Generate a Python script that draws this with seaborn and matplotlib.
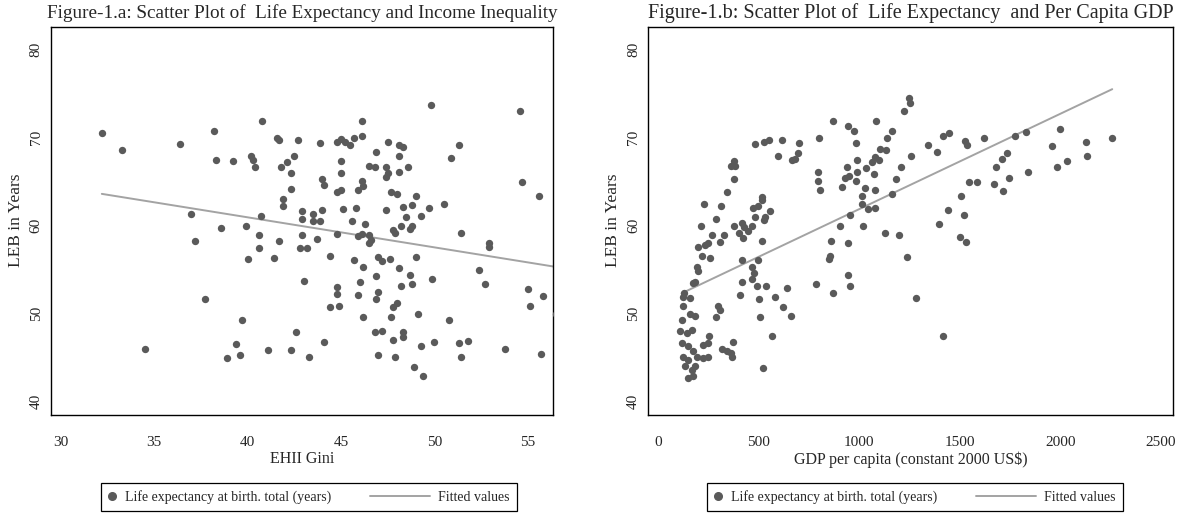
import matplotlib
matplotlib.use("Agg")
import matplotlib.pyplot as plt
import seaborn as sns
from matplotlib.lines import Line2D
from matplotlib.legend_handler import HandlerBase

# Figure-1.a: EHII Gini vs life expectancy at birth
gini = [32.2, 33.3, 36.4, 38.2, 38.3, 39.2, 40.8, 40.2, 40.3, 40.4,
        41.6, 41.7, 42.7, 42.5, 41.8, 42.1, 42.3, 42.3, 41.9, 41.9,
        42.9, 42.9, 37.0, 38.6, 39.9, 40.7, 40.6, 37.2, 41.7, 42.9,
        40.6, 40.0, 41.4, 42.8, 43.2, 43.0, 37.7, 39.7, 42.6, 34.5,
        39.4, 39.6, 38.9, 41.1, 42.3, 43.3,
        43.9, 44.8, 45.0, 45.2, 45.5, 45.7, 46.1, 46.1, 47.5, 46.9,
        48.1, 48.3, 48.1, 49.8, 51.3, 50.9, 54.6, 54.7, 55.6, 45.0,
        45.0, 46.5, 46.8, 47.4, 47.5, 47.4, 48.1, 48.6, 44.0, 44.1,
        46.1, 46.2, 45.9, 44.8, 45.0, 47.7, 48.0, 49.0, 43.5, 43.5,
        43.9, 44.0, 45.1, 45.8, 45.6, 46.3, 47.4, 48.3, 48.8, 48.5,
        49.3, 49.7, 50.5, 47.8, 47.9, 48.2, 48.7, 48.8, 51.4, 43.7,
        44.8, 45.9, 46.1, 46.5, 52.9, 52.9,
        46.6, 46.5, 44.4, 45.7, 46.2, 47.0, 47.2, 47.6, 49.0, 48.1,
        46.9, 46.0, 48.7, 48.8, 48.2, 49.9, 52.4, 52.7, 55.0, 55.8,
        55.1, 56.5, 44.8, 44.8, 45.9, 47.0, 46.9, 44.4, 44.9, 48.0,
        47.8, 47.7, 46.2, 49.1, 50.8, 46.8, 47.2, 47.8, 48.3, 48.3,
        44.1, 50.0, 51.3, 51.8, 49.3, 53.8, 47.0, 47.9, 51.4, 55.7,
        48.9, 49.4]
leb_a = [70.5, 68.6, 69.3, 70.7, 67.5, 67.3, 71.9, 67.9, 67.4, 66.7,
         69.9, 69.7, 69.7, 67.9, 66.7, 67.2, 66.0, 64.1, 63.0, 62.2,
         61.7, 60.7, 61.3, 59.7, 60.0, 61.1, 58.9, 58.2, 58.2, 58.9,
         57.4, 56.2, 56.3, 57.5, 57.4, 53.7, 51.6, 49.3, 47.9, 46.0,
         46.5, 45.3, 44.9, 45.8, 45.8, 45.1,
         69.4, 69.5, 69.8, 69.5, 69.1, 69.9, 71.9, 70.2, 69.5, 68.4,
         69.1, 68.9, 67.9, 73.7, 69.1, 67.7, 73.0, 65.0, 63.4, 67.3,
         66.0, 66.8, 66.7, 66.6, 66.0, 65.5, 66.1, 66.7, 65.3, 64.6,
         65.1, 64.5, 64.0, 63.8, 64.0, 63.8, 63.6, 63.4, 61.3, 60.5,
         60.5, 61.8, 61.9, 62.0, 60.5, 60.2, 61.8, 62.1, 62.3, 61.0,
         61.1, 62.0, 62.4, 59.5, 59.1, 59.9, 59.6, 59.9, 59.1, 58.5,
         59.0, 58.8, 59.0, 58.9, 58.0, 57.6,
         58.3, 58.0, 56.5, 56.1, 55.3, 56.4, 56.0, 56.2, 56.4, 55.2,
         54.3, 53.6, 54.4, 53.4, 53.1, 53.9, 55.0, 53.3, 52.8, 52.0,
         50.8, 49.9, 53.0, 52.2, 52.1, 52.4, 51.6, 50.7, 50.9, 51.2,
         50.7, 49.6, 49.6, 50.0, 49.3, 47.9, 48.0, 47.0, 47.9, 47.3,
         46.8, 46.8, 46.6, 46.9, 46.3, 46.0, 45.3, 45.1, 45.1, 45.4,
         43.9, 42.9]
fit_a_x = [32.2, 56.5]
fit_a_y = [63.6, 55.3]

# Figure-1.b: GDP per capita vs life expectancy at birth
gdp = [1247, 1252, 1223, 871, 1083, 946, 974, 984, 1161, 1140,
       1105, 1132, 702, 696, 665, 681, 615, 552, 528, 481,
       598, 800, 797, 797, 804, 938, 989, 990, 1035, 1064,
       1079, 1098, 1074, 949, 929, 983, 913, 1209, 1181, 1256,
       1029, 1079, 1016, 1012, 1042, 1079, 1165, 954, 905, 1020,
       1128, 1199, 1239, 860, 943, 853, 851, 946, 956, 868,
       785, 1284, 1415,
       229, 315, 343, 378, 363, 383, 378, 215, 290, 326,
       310, 270, 250, 234, 200, 217, 258, 192, 200, 172,
       184, 131, 378, 416, 429, 403, 424, 449, 474, 482,
       499, 515, 518, 532, 557, 528, 466, 518, 419, 498,
       466, 476, 469, 416, 409, 494, 503, 538, 582, 641,
       621, 660, 508, 565, 520, 300, 310, 287, 374, 363,
       366, 317, 341, 255, 250, 250, 222, 225, 192, 175,
       159, 184, 126, 118, 159, 123, 109, 143, 167, 118,
       151, 126, 151, 134, 167, 184, 151, 176,
       1343, 1387, 1415, 1446, 1527, 1534, 1619, 1774, 1831, 2000,
       2129, 2258, 1957, 1983, 2031, 2132, 1678, 1708, 1735, 1745,
       1670, 1715, 1840, 1547, 1587, 1504, 1440, 1519, 1398, 1501,
       1532]
leb_b = [74.5, 73.9, 73.0, 71.9, 71.9, 71.3, 70.8, 69.4, 70.8, 69.9,
         68.7, 68.6, 69.4, 68.3, 67.5, 67.6, 69.7, 69.7, 69.5, 69.3,
         67.9, 69.9, 66.1, 65.1, 64.0, 66.6, 67.5, 66.1, 66.5, 67.2,
         67.8, 67.4, 65.9, 65.6, 65.4, 65.1, 64.4, 66.6, 65.3, 67.9,
         64.3, 64.0, 63.4, 62.4, 61.9, 62.0, 63.6, 61.2, 59.9, 60.0,
         59.1, 58.9, 56.4, 58.2, 58.0, 56.5, 56.2, 54.4, 53.1, 52.3,
         53.3, 51.8, 47.5,
         62.4, 62.2, 63.8, 65.3, 66.8, 66.8, 67.3, 60.0, 60.7, 58.9,
         58.1, 58.9, 58.0, 57.8, 57.6, 56.5, 56.3, 55.3, 54.8, 53.5,
         53.6, 52.3, 59.9, 60.3, 59.8, 59.2, 58.6, 59.4, 62.0, 61.0,
         62.2, 63.3, 62.9, 61.0, 61.7, 60.6, 59.9, 58.2, 56.1, 56.1,
         55.3, 54.6, 53.9, 53.6, 52.1, 53.1, 51.6, 53.1, 51.9, 52.9,
         50.7, 49.7, 49.6, 47.4, 43.8, 50.9, 50.4, 49.6, 46.8, 45.5,
         45.1, 46.0, 45.7, 47.4, 46.6, 45.1, 46.4, 44.9, 45.1, 45.7,
         49.9, 49.7, 50.8, 49.3, 51.8, 51.9, 48.0, 47.8, 48.1, 46.6,
         46.3, 45.1, 44.7, 44.0, 43.6, 44.0, 42.7, 42.9,
         69.1, 68.4, 70.2, 70.5, 69.6, 69.1, 69.9, 70.2, 70.6, 71.0,
         69.5, 70.0, 69.0, 66.7, 67.3, 67.9, 66.7, 67.6, 68.3, 65.4,
         64.7, 63.9, 66.1, 64.9, 65.0, 63.4, 61.8, 61.2, 60.2, 58.7,
         58.1]
fit_b_x = [118, 2258]
fit_b_y = [52.3, 75.5]

y_ticks = [40, 50, 60, 70, 80]
x_ticks_a = [30, 35, 40, 45, 50, 55]
x_ticks_b = [0, 500, 1000, 1500, 2000, 2500]

PT = "#5a5a5a"
LN = "#a3a3a3"

sns.set_style("white")
plt.rcParams["font.family"] = ["Liberation Serif", "DejaVu Serif"]


class LongLineHandler(HandlerBase):
    # legend line that reaches back into the column gap, like Stata's key
    def create_artists(self, legend, orig_handle, xdescent, ydescent,
                       width, height, fontsize, trans):
        y = height / 2 - ydescent
        x1 = width - xdescent
        ln = Line2D([x1 - 4.3 * fontsize, x1], [y, y], color=orig_handle.get_color(),
                    lw=orig_handle.get_linewidth(), transform=trans)
        return [ln]


def draw_panel(ax, x, y, fx, fy, xticks, xlim, title, title_size, xlabel, legend_x):
    sns.scatterplot(x=x, y=y, ax=ax, color=PT, s=28, linewidth=0, legend=False, zorder=3)
    sns.lineplot(x=fx, y=fy, ax=ax, color=LN, lw=1.4, zorder=2)
    ax.set_xlim(*xlim)
    ax.set_ylim(38.5, 82.6)
    ax.set_xticks(xticks)
    ax.set_yticks(y_ticks)
    ax.set_xticklabels([str(t) for t in xticks], fontsize=11)
    ax.set_yticklabels([str(t) for t in y_ticks], fontsize=11, rotation=90, va="center")
    ax.tick_params(axis="x", direction="out", length=6, width=0.8, color="#555555", pad=9)
    ax.tick_params(axis="y", direction="out", length=5, width=0.8, color="#222222", pad=1)
    for sp in ax.spines.values():
        sp.set_visible(True)
        sp.set_color("black")
        sp.set_linewidth(1.0)
    ax.set_xlabel(xlabel, fontsize=11.5, labelpad=2)
    ax.set_ylabel("LEB in Years", fontsize=12.5, labelpad=4)
    ax.set_title(title, fontsize=title_size, pad=6)
    handles = [Line2D([], [], marker="o", ls="none", color=PT, markersize=5.5),
               Line2D([], [], color=LN, lw=1.4)]
    labels = ["Life expectancy at birth. total (years)", "Fitted values"]
    leg = fig.legend(handles, labels, loc="center", bbox_to_anchor=(legend_x, 0.039),
                     ncol=2, fontsize=10, frameon=True, fancybox=False,
                     edgecolor="black", framealpha=1, handlelength=0.6,
                     handletextpad=0.6, columnspacing=6.5, borderpad=0.5,
                     handler_map={handles[1]: LongLineHandler()})
    leg.get_frame().set_linewidth(0.9)


fig = plt.figure(figsize=(11.85, 5.17), dpi=100)
ax1 = fig.add_axes([51 / 1185, 1 - 414.7 / 517, 502 / 1185, 388 / 517])
ax2 = fig.add_axes([648.3 / 1185, 1 - 414.7 / 517, 524.7 / 1185, 388 / 517])

draw_panel(ax1, gini, leb_a, fit_a_x, fit_a_y, x_ticks_a, (29.48, 56.35),
           "Figure-1.a: Scatter Plot of  Life Expectancy and Income Inequality", 13.8,
           "EHII Gini", 309 / 1185)
draw_panel(ax2, gdp, leb_b, fit_b_x, fit_b_y, x_ticks_b, (-48, 2560),
           "Figure-1.b: Scatter Plot of  Life Expectancy  and Per Capita GDP", 14.5,
           "GDP per capita (constant 2000 US\\$)", 915 / 1185)

fig.savefig("out.png", dpi=100)
